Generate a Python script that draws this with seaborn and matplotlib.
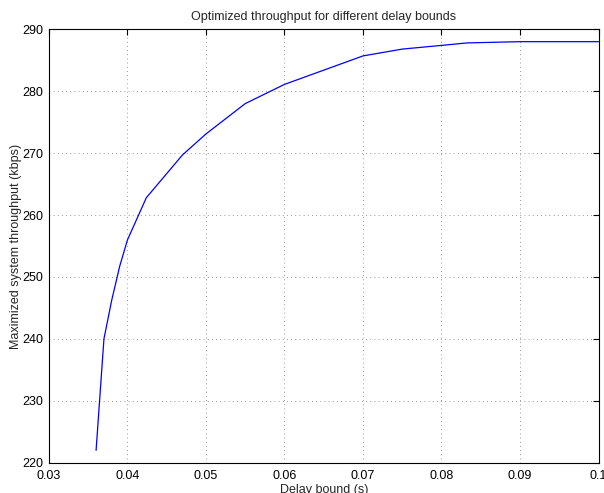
import matplotlib
matplotlib.use("Agg")
import matplotlib.pyplot as plt
import seaborn as sns
import pandas as pd

delay_bound = [0.036, 0.037, 0.038, 0.039, 0.040, 0.0424, 0.047, 0.050, 0.055,
               0.060, 0.070, 0.075, 0.080, 0.0833, 0.090, 0.100]
throughput = [222.0, 240.0, 246.3, 251.7, 256.0, 262.8, 269.7, 273.1, 278.0,
              281.1, 285.7, 286.8, 287.4, 287.8, 288.0, 288.0]
x_ticks = [0.03, 0.04, 0.05, 0.06, 0.07, 0.08, 0.09, 0.1]
x_tick_labels = ["0.03", "0.04", "0.05", "0.06", "0.07", "0.08", "0.09", "0.1"]
y_ticks = [220, 230, 240, 250, 260, 270, 280, 290]

df = pd.DataFrame({"delay": delay_bound, "tp": throughput})

sns.set_style("white")
plt.rcParams["font.family"] = ["Liberation Sans", "DejaVu Sans"]
plt.rcParams["font.size"] = 9

fig = plt.figure(figsize=(6.04, 4.93), dpi=100)
ax = fig.add_axes([0.0811, 0.0614, 0.9098, 0.8792])

sns.lineplot(data=df, x="delay", y="tp", ax=ax, color="#0000ff", linewidth=0.9,
             estimator=None, sort=False)

ax.set_xlim(0.03, 0.1)
ax.set_ylim(220, 290)
ax.set_xticks(x_ticks)
ax.set_xticklabels(x_tick_labels)
ax.set_yticks(y_ticks)

ax.grid(True, linestyle=(0, (1, 4)), color="#7a7a7a", linewidth=0.6)
for s in ax.spines.values():
    s.set_color("black")
    s.set_linewidth(0.8)
ax.tick_params(direction="in", length=4, width=0.8, top=True, right=True,
               labelsize=9, colors="black")
ax.tick_params(axis="y", pad=4)
ax.tick_params(axis="x", pad=5)

ax.set_title("Optimized throughput for different delay bounds", fontsize=9, pad=7)
ax.set_xlabel("Delay bound (s)", fontsize=9, labelpad=2)
ax.set_ylabel("Maximized system throughput (kbps)", fontsize=9, labelpad=0)

fig.savefig("out.png", dpi=100)
